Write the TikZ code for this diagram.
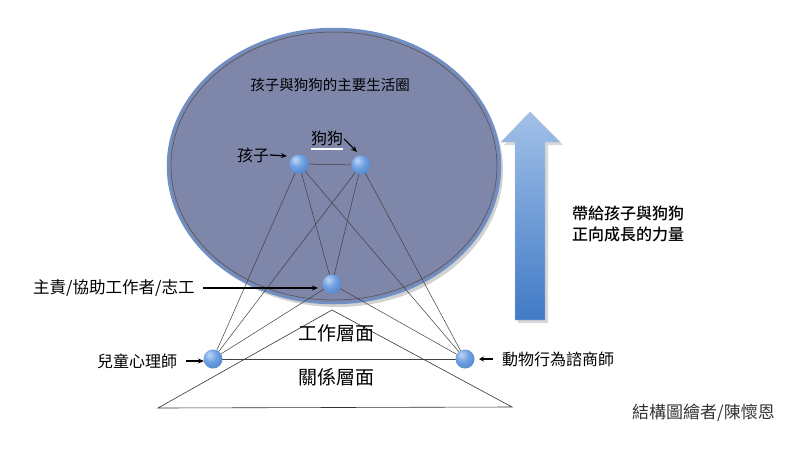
\documentclass[tikz,border=0pt]{standalone}
\usepackage{fontspec}
\newfontfamily\cjk{Noto Sans CJK TC}
\newfontfamily\cjkb{Noto Sans CJK TC Medium}
\usetikzlibrary{arrows.meta}
\definecolor{ellfill}{RGB}{126,134,169}
\definecolor{ellrim}{RGB}{112,143,196}
\definecolor{arrtop}{RGB}{162,192,232}
\definecolor{arrbot}{RGB}{64,122,198}
\definecolor{ballhi}{RGB}{190,215,245}
\definecolor{ballc}{RGB}{110,160,225}
\definecolor{ballo}{RGB}{70,120,195}
\pgfdeclareradialshading{myball}{\pgfpoint{-10bp}{12bp}}{%
  color(0bp)=(ballhi); color(18bp)=(ballc); color(45bp)=(ballo); color(60bp)=(ballo!85!black); color(100bp)=(ballo!85!black)}
\tikzset{
  ballnode/.style={circle,inner sep=0pt,minimum size=19pt,shading=myball},
  link/.style={draw=black!75,line width=0.5pt},
  lbl/.style={font=\cjk\fontsize{16}{19}\selectfont,inner sep=1pt},
  ptr/.style={-{Stealth[length=6pt,width=5pt]},line width=1.3pt,black},
}
\begin{document}
\begin{tikzpicture}[x=1pt,y=-1pt]
\useasboundingbox (0,0) rectangle (800,448);
% shadow of ellipse
\fill[black!18] (337,170) ellipse [x radius=166, y radius=137];
% main ellipse
\fill[ellfill] (334,166) ellipse [x radius=166, y radius=137];
\draw[ellrim,line width=2.5pt] (334,166) ellipse [x radius=166, y radius=137];
\draw[black!70,line width=0.5pt] (334,166) ellipse [x radius=163, y radius=134];
\node[font=\cjk\fontsize{14.5}{17}\selectfont] (title) at (330,85) {孩子與狗狗的主要生活圈};
% triangle
\coordinate (ta) at (332,310);
\coordinate (tl) at (158,408);
\coordinate (tr) at (512,407);
\draw[black!80,line width=0.6pt] (ta) -- (tl) -- (tr) -- cycle;
% nodes
\coordinate (kc) at (299,164);
\coordinate (dc) at (361,165);
\coordinate (mc) at (332,284);
\coordinate (lc) at (213,359);
\coordinate (rc) at (465,359);
\foreach \a/\b in {kc/dc,kc/mc,kc/lc,kc/rc,dc/mc,dc/lc,dc/rc,mc/lc,mc/rc,lc/rc}
  \draw[link] (\a) -- (\b);
\node[ballnode] (k) at (kc) {};
\node[ballnode] (d) at (dc) {};
\node[ballnode] (m) at (mc) {};
\node[ballnode] (l) at (lc) {};
\node[ballnode] (r) at (rc) {};
% layer labels
\node[font=\cjk\fontsize{19}{22}\selectfont] (work) at (336,333) {工作層面};
\node[font=\cjk\fontsize{19}{22}\selectfont] (rel) at (336,377) {關係層面};
% labels with pointers
\node[lbl] (lk) at (253,155) {孩子};
\coordinate (lkend) at (287,156);
\draw[ptr] (lk.east) -- (lkend);
\node[lbl] (ld) at (327,138) {狗狗};
\draw[white,line width=1.5pt] (311,149) -- (343,149);
\coordinate (ldend) at (357,152);
\draw[ptr,line width=1.1pt] (ld.east) ++(0,1) -- (ldend);
\node[lbl,font=\cjk\fontsize{16.5}{19}\selectfont,anchor=west] (lm) at (32,288) {主責/協助工作者/志工};
\coordinate (lmst) at (203,288);
\coordinate (lmend) at (318,288);
\draw[ptr,line width=1.1pt] (lmst) -- (lmend);
\node[lbl,anchor=west] (ll) at (96,361) {兒童心理師};
\coordinate (llst) at (186,361);
\coordinate (llend) at (204,361);
\draw[ptr] (llst) -- (llend);
\node[lbl,anchor=west] (lr) at (501,359) {動物行為諮商師};
\coordinate (lrst) at (493,359);
\coordinate (lrend) at (479,359);
\draw[ptr,-{Stealth[length=5pt,width=5pt]}] (lrst) -- (lrend);
% big arrow
\fill[black!15] (518,323) -- (518,145) -- (504,145) -- (533,115) -- (563,145) -- (548,145) -- (548,323) -- cycle;
\shade[top color=arrtop,bottom color=arrbot,draw=arrtop!80!black!60,line width=0.4pt]
  (515,320) -- (515,142) -- (501,142) -- (530,112) -- (560,142) -- (545,142) -- (545,320) -- cycle;
\node[font=\cjkb\fontsize{16}{21}\selectfont,align=left,anchor=north west,inner sep=0pt] (power) at (572,206) {帶給孩子與狗狗\\正向成長的力量};
\node[font=\cjk\fontsize{17}{20}\selectfont,anchor=west,inner sep=0pt,text=black!80] (author) at (632,413) {結構圖繪者/陳懷恩};
\end{tikzpicture}
\end{document}
